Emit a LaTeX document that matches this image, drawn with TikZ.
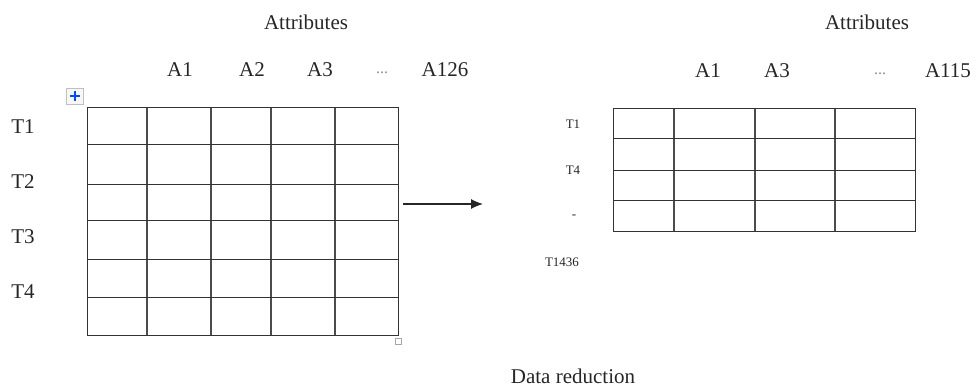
\documentclass[tikz,border=0pt]{standalone}
\usepackage{fontspec}
\setmainfont{Liberation Serif}
\usetikzlibrary{arrows.meta}
\begin{document}
\begin{tikzpicture}[x=1pt,y=-1pt,
  lbl/.style={font=\fontsize{21}{23}\selectfont, text=black!85, inner sep=0pt, anchor=center},
  small/.style={font=\fontsize{13}{14}\selectfont, text=black!85, inner sep=0pt, anchor=center},
  dots/.style={font=\fontsize{16}{18}\selectfont, text=black!45, inner sep=0pt, anchor=center},
  gridline/.style={draw=black!80, line width=0.9pt},
  vline/.style={draw=black!70, line width=1.2pt}]
\useasboundingbox (0,0) rectangle (976,387);
% left table
\node[draw=none, minimum width=311pt, minimum height=228pt, inner sep=0pt, anchor=north west] (lefttab) at (87,107) {};
\foreach \x in {147,211,271,335} \draw[vline] (\x,107) -- (\x,335);
\foreach \y in {144,184,220,259,297} \draw[gridline] (87,\y) -- (398,\y);
\draw[gridline] (87,107) rectangle (398,335);
% right table
\node[draw=none, minimum width=302pt, minimum height=123pt, inner sep=0pt, anchor=north west] (righttab) at (613,108) {};
\foreach \x in {674,755,835} \draw[vline] (\x,108) -- (\x,231);
\foreach \y in {138,170,200} \draw[gridline] (613,\y) -- (915,\y);
\draw[gridline] (613,108) rectangle (915,231);
% headers
\node[lbl] (attl) at (306,22) {Attributes};
\node[lbl] (a1l) at (180,70) {A1};
\node[lbl] (a2l) at (252,70) {A2};
\node[lbl] (a3l) at (320,70) {A3};
\node[dots] (dl) at (382,73) {...};
\node[lbl] (a126) at (445,70) {A126};
\node[lbl] (attr) at (867,22) {Attributes};
\node[lbl] (a1r) at (708,71) {A1};
\node[lbl] (a3r) at (777,71) {A3};
\node[dots] (dr) at (880,74) {...};
\node[lbl] (a115) at (948,71) {A115};
% row labels left
\node[lbl] (t1) at (23,127) {T1};
\node[lbl] (t2) at (23,182) {T2};
\node[lbl] (t3) at (23,237) {T3};
\node[lbl] (t4) at (23,292) {T4};
% row labels right
\node[small] (rt1) at (573,124) {T1};
\node[small] (rt4) at (573,170) {T4};
\node[small] (rdash) at (574,217) {-};
\node[small] (rt1436) at (562,262) {T1436};
% arrow
\coordinate (as) at (403,204);
\coordinate (ae) at (483,204);
\draw[line width=1.1pt, black!85, -{Latex[length=12pt,width=10pt]}] (as) -- (ae);
% caption
\node[lbl] (cap) at (573,376) {Data reduction};
% handle icons
\node[draw=black!25, fill=black!3, minimum width=17pt, minimum height=16pt, inner sep=0pt] (handle) at (75,96) {};
\draw[blue!70!cyan, line width=1.2pt] (handle.center) ++(-5,0) -- ++(10,0) (handle.center) ++(0,-5) -- ++(0,10);
\node[draw=black!35, minimum width=6pt, minimum height=6pt, inner sep=0pt] (resize) at (398,341) {};
\end{tikzpicture}
\end{document}
